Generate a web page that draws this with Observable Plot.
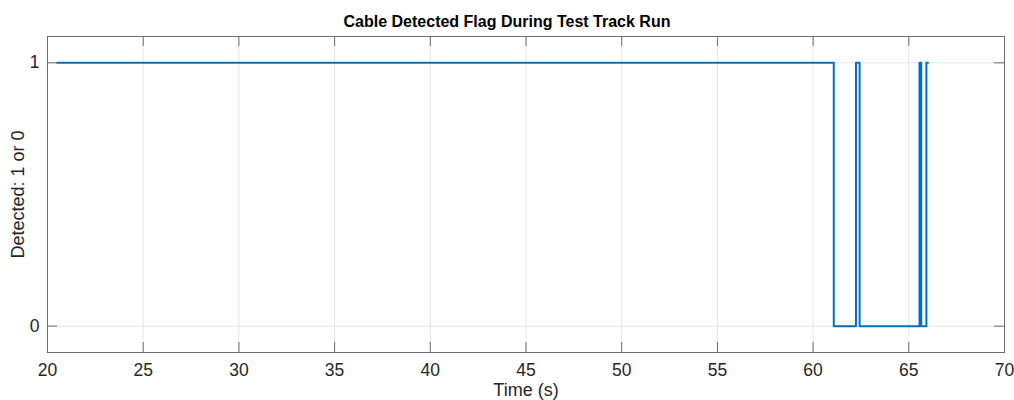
<!DOCTYPE html>
<html>
<head>
<meta charset="utf-8">
<script src="https://cdn.jsdelivr.net/npm/d3@7"></script>
<script src="https://cdn.jsdelivr.net/npm/@observablehq/plot@0.6"></script>
<style>
  body { margin: 0; background: #fff; font-family: "Liberation Sans", Arial, sans-serif; }
  #title { width: 1014px; height: 16px; padding-top: 14px; line-height: 16px; text-align: center; font-weight: bold; font-size: 16px; color: #000; }
  #chart svg { display: block; }
</style>
</head>
<body>
<div id="title">Cable Detected Flag During Test Track Run</div>
<div id="chart"></div>
<script>
// Times (s) where the flag changes, and the flag value from that time on
const times = [20.5, 61.08, 62.24, 62.43, 65.56, 65.65, 65.92, 66.0];
const detected = [1, 0, 1, 0, 1, 0, 1, 1];
const xTicks = [20, 25, 30, 35, 40, 45, 50, 55, 60, 65, 70];
const yTicks = [0, 1];
const xDomain = [20, 70];
const yDomain = [-0.1, 1.1];

const data = times.map((t, i) => ({t, v: detected[i]}));

const W = 1014, H = 370;
const mL = 47, mR = 10, mT = 6, mB = 48;
const innerW = W - mL - mR, innerH = H - mT - mB;
const axisColor = "#6e6e6e";
const fontSize = "17.5px";

const plot = Plot.plot({
  width: W,
  height: H,
  marginLeft: mL,
  marginRight: mR,
  marginTop: mT,
  marginBottom: mB,
  style: { fontFamily: "'Liberation Sans', Arial, sans-serif", fontSize: fontSize, color: "#262626", background: "#fff" },
  x: { domain: xDomain, ticks: xTicks },
  y: { domain: yDomain, ticks: yTicks },
  marks: [
    Plot.gridX(xTicks, { stroke: "#e5e5e5", strokeOpacity: 1 }),
    Plot.gridY(yTicks, { stroke: "#e5e5e5", strokeOpacity: 1 }),
    Plot.line(data, { x: "t", y: "v", curve: "step-after", stroke: "#0072BD", strokeWidth: 2 }),
    // inward ticks on all four sides
    Plot.tickX(xTicks, { x: d => d, insetTop: innerH - 10, stroke: axisColor }),
    Plot.tickX(xTicks, { x: d => d, insetBottom: innerH - 10, stroke: axisColor }),
    Plot.tickY(yTicks, { y: d => d, insetRight: innerW - 10, stroke: axisColor }),
    Plot.tickY(yTicks, { y: d => d, insetLeft: innerW - 10, stroke: axisColor }),
    Plot.axisX(xTicks, { anchor: "bottom", tickSize: 0, tickPadding: 11, label: null, tickFormat: d3.format("d"), fontSize: fontSize, fill: "#262626" }),
    Plot.axisY(yTicks, { anchor: "left", tickSize: 0, tickPadding: 8, label: null, tickFormat: d3.format("d"), fontSize: fontSize, fill: "#262626" }),
    Plot.frame({ stroke: axisColor, strokeWidth: 1 }),
    Plot.text(["Time (s)"], { frameAnchor: "bottom", textAnchor: "middle", lineAnchor: "middle", dy: 38, text: d => d, fontSize: "18px", fill: "#262626" }),
    Plot.text(["Detected: 1 or 0"], { frameAnchor: "left", textAnchor: "middle", lineAnchor: "middle", dx: -29, rotate: -90, text: d => d, fontSize: "18px", fill: "#262626" })
  ]
});
document.getElementById("chart").appendChild(plot);
</script>
</body>
</html>
